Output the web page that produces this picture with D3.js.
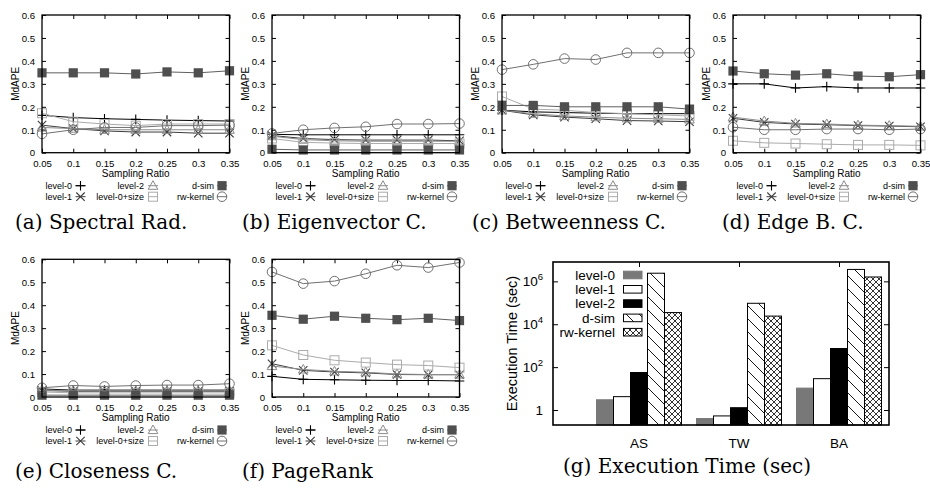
<!DOCTYPE html>
<html>
<head>
<meta charset="utf-8">
<script src="https://cdn.jsdelivr.net/npm/d3@7"></script>
<style>
  body { margin: 0; background: #fff; }
  svg { display: block; }
  .sans { font-family: "Liberation Sans", Arial, sans-serif; }
  .caption { font-family: "DejaVu Serif", serif; font-size: 20px; }
</style>
</head>
<body>
<div id="chart"></div>
<script>
// sampling ratios and method names shared by the six MdAPE panels
const ratios = [0.05, 0.1, 0.15, 0.2, 0.25, 0.3, 0.35];
const methods = ["level-0", "level-1", "level-2", "level-0+size", "d-sim", "rw-kernel"];
const mdapeTicks = [0, 0.1, 0.2, 0.3, 0.4, 0.5, 0.6];

// MdAPE values, one row per method (same order as methods)
const spectralRad = [
    [0.163, 0.153, 0.148, 0.145, 0.142, 0.140, 0.138],
    [0.120, 0.105, 0.095, 0.090, 0.090, 0.085, 0.085],
    [0.110, 0.105, 0.100, 0.100, 0.100, 0.100, 0.100],
    [0.172, 0.135, 0.125, 0.118, 0.125, 0.125, 0.125],
    [0.348, 0.348, 0.348, 0.343, 0.352, 0.348, 0.357],
    [0.082, 0.100, 0.110, 0.110, 0.118, 0.118, 0.120]
];
const eigenvectorC = [
    [0.080, 0.078, 0.078, 0.078, 0.078, 0.078, 0.078],
    [0.075, 0.062, 0.057, 0.055, 0.055, 0.055, 0.052],
    [0.072, 0.057, 0.052, 0.050, 0.050, 0.050, 0.050],
    [0.062, 0.045, 0.042, 0.040, 0.040, 0.040, 0.040],
    [0.015, 0.012, 0.012, 0.012, 0.012, 0.012, 0.012],
    [0.084, 0.100, 0.108, 0.113, 0.125, 0.125, 0.127]
];
const betweennessC = [
    [0.185, 0.178, 0.175, 0.172, 0.170, 0.170, 0.170],
    [0.185, 0.165, 0.155, 0.148, 0.140, 0.138, 0.135],
    [0.185, 0.170, 0.160, 0.155, 0.150, 0.148, 0.145],
    [0.245, 0.190, 0.185, 0.175, 0.170, 0.165, 0.160],
    [0.206, 0.206, 0.200, 0.200, 0.200, 0.200, 0.190],
    [0.362, 0.385, 0.410, 0.406, 0.435, 0.435, 0.435]
];
const edgeBC = [
    [0.300, 0.300, 0.282, 0.288, 0.282, 0.282, 0.282],
    [0.150, 0.132, 0.125, 0.122, 0.118, 0.116, 0.113],
    [0.155, 0.138, 0.128, 0.125, 0.120, 0.118, 0.115],
    [0.052, 0.043, 0.040, 0.037, 0.034, 0.034, 0.032],
    [0.356, 0.344, 0.338, 0.344, 0.334, 0.331, 0.340],
    [0.111, 0.100, 0.100, 0.103, 0.103, 0.100, 0.103]
];
const closenessC = [
    [0.035, 0.030, 0.030, 0.030, 0.030, 0.030, 0.030],
    [0.028, 0.025, 0.025, 0.025, 0.025, 0.025, 0.025],
    [0.030, 0.028, 0.027, 0.027, 0.027, 0.027, 0.027],
    [0.022, 0.018, 0.018, 0.018, 0.018, 0.018, 0.018],
    [0.008, 0.008, 0.008, 0.008, 0.008, 0.008, 0.008],
    [0.040, 0.050, 0.046, 0.050, 0.052, 0.052, 0.058]
];
const pageRank = [
    [0.090, 0.077, 0.075, 0.073, 0.072, 0.072, 0.070],
    [0.145, 0.116, 0.109, 0.105, 0.098, 0.097, 0.097],
    [0.135, 0.120, 0.112, 0.108, 0.100, 0.098, 0.098],
    [0.225, 0.183, 0.160, 0.150, 0.141, 0.137, 0.128],
    [0.356, 0.339, 0.352, 0.343, 0.337, 0.343, 0.333],
    [0.545, 0.494, 0.505, 0.537, 0.574, 0.564, 0.586]
];

// execution time (sec), log scale panel
const datasets = ["AS", "TW", "BA"];
const execLevel0 = [3.0, 0.40, 10.5];
const execLevel1 = [4.2, 0.53, 29];
const execLevel2 = [56, 1.28, 740];
const execDsim = [2.4e6, 9.5e4, 3.6e6];
const execRwKernel = [3.5e4, 2.4e4, 1.6e6];
const execTicks = [1, 1e2, 1e4, 1e6];

const svg = d3.select("#chart").append("svg")
    .attr("width", 930)
    .attr("height", 498);

// styles for each method in the line panels
const lineStyle = {
    "level-0": { color: "#000", marker: "plus" },
    "level-1": { color: "#3c3c3c", marker: "cross" },
    "level-2": { color: "#8c8c8c", marker: "triangle" },
    "level-0+size": { color: "#ababab", marker: "square" },
    "d-sim": { color: "#5f5f5f", fill: "#4f4f4f", marker: "squareFilled" },
    "rw-kernel": { color: "#707070", marker: "circle" }
};

function drawMarker(g, type, cx, cy, st) {
    const c = st.color;
    if (type === "plus") {
        g.append("path").attr("d", `M${cx - 4.8},${cy}H${cx + 4.8}M${cx},${cy - 4.8}V${cy + 4.8}`)
            .attr("stroke", c).attr("stroke-width", 1.1).attr("fill", "none");
    } else if (type === "cross") {
        g.append("path").attr("d", `M${cx - 4.2},${cy - 4.2}L${cx + 4.2},${cy + 4.2}M${cx - 4.2},${cy + 4.2}L${cx + 4.2},${cy - 4.2}`)
            .attr("stroke", c).attr("stroke-width", 1.1).attr("fill", "none");
    } else if (type === "triangle") {
        g.append("path").attr("d", `M${cx},${cy - 5}L${cx + 4.8},${cy + 3.6}L${cx - 4.8},${cy + 3.6}Z`)
            .attr("stroke", c).attr("stroke-width", 1).attr("fill", "none");
    } else if (type === "square") {
        g.append("rect").attr("x", cx - 4.5).attr("y", cy - 4.5).attr("width", 9).attr("height", 9)
            .attr("stroke", c).attr("stroke-width", 1).attr("fill", "none");
    } else if (type === "squareFilled") {
        g.append("rect").attr("x", cx - 4.6).attr("y", cy - 4.6).attr("width", 9.2).attr("height", 9.2)
            .attr("fill", st.fill);
    } else if (type === "circle") {
        g.append("circle").attr("cx", cx).attr("cy", cy).attr("r", 4.8)
            .attr("stroke", c).attr("stroke-width", 1).attr("fill", "none");
    }
}

const plotW = 187.5;
const plotH = 137.7;

function drawLinePanel(p) {
    const g = svg.append("g").attr("class", "sans");
    const x = d3.scaleLinear().domain([0.05, 0.35]).range([p.left, p.left + plotW]);
    const y = d3.scaleLinear().domain([0, 0.6]).range([p.top + plotH, p.top]);

    // axes with inward ticks on all four sides
    const left = g.append("g").attr("transform", `translate(${p.left},0)`)
        .call(d3.axisLeft(y).tickValues(mdapeTicks).tickFormat(d => String(d))
            .tickSizeInner(-4).tickSizeOuter(0).tickPadding(7));
    const right = g.append("g").attr("transform", `translate(${p.left + plotW},0)`)
        .call(d3.axisRight(y).tickValues(mdapeTicks).tickFormat("")
            .tickSizeInner(-4).tickSizeOuter(0));
    const bottom = g.append("g").attr("transform", `translate(0,${p.top + plotH})`)
        .call(d3.axisBottom(x).tickValues(ratios).tickFormat(d => String(d))
            .tickSizeInner(-4).tickSizeOuter(0).tickPadding(6));
    const top = g.append("g").attr("transform", `translate(0,${p.top})`)
        .call(d3.axisTop(x).tickValues(ratios).tickFormat("")
            .tickSizeInner(-4).tickSizeOuter(0));
    [left, right, bottom, top].forEach(a => {
        a.select(".domain").remove();
        a.selectAll("line").attr("stroke", "#000");
        a.selectAll("text").attr("fill", "#000")
            .style("font-family", "'Liberation Sans', Arial, sans-serif")
            .style("font-size", "9.6px");
    });
    bottom.selectAll("text").attr("dy", null).attr("y", 14);
    left.selectAll("text").attr("dy", "0.34em");

    g.append("text")
        .attr("transform", `translate(${p.left - 23.5},${p.top + plotH / 2}) rotate(-90)`)
        .attr("text-anchor", "middle")
        .style("font-size", "10px")
        .text("MdAPE");

    g.append("text")
        .attr("x", p.left + plotW / 2)
        .attr("y", p.top + plotH + 24)
        .attr("text-anchor", "middle")
        .style("font-size", "10px")
        .text("Sampling Ratio");

    // series, drawn in key order
    const line = d3.line().x((d, i) => x(ratios[i])).y(d => y(d));
    methods.forEach((m, k) => {
        const st = lineStyle[m];
        const vals = p.data[k];
        g.append("path")
            .datum(vals)
            .attr("d", line)
            .attr("fill", "none")
            .attr("stroke", st.color)
            .attr("stroke-width", 1);
        const mg = g.append("g");
        vals.forEach((v, i) => drawMarker(mg, st.marker, x(ratios[i]), y(v), st));
    });

    g.append("rect")
        .attr("x", p.left).attr("y", p.top)
        .attr("width", plotW).attr("height", plotH)
        .attr("fill", "none").attr("stroke", "#000").attr("stroke-width", 1.3);

    // key: 3 columns x 2 rows
    const colText = [30, 102, 172];
    const colMark = [38.5, 111, 180];
    const rowY = [p.top + plotH + 33, p.top + plotH + 44];
    methods.forEach((m, k) => {
        const col = Math.floor(k / 2), row = k % 2;
        const st = lineStyle[m];
        g.append("text")
            .attr("x", p.left + colText[col])
            .attr("y", rowY[row] + 3.2)
            .attr("text-anchor", "end")
            .style("font-size", "9px")
            .text(m);
        const mx = p.left + colMark[col];
        g.append("line")
            .attr("x1", mx - 5).attr("x2", mx + 5)
            .attr("y1", rowY[row]).attr("y2", rowY[row])
            .attr("stroke", st.color).attr("stroke-width", 1);
        drawMarker(g, st.marker, mx, rowY[row], st);
    });

    svg.append("text")
        .attr("class", "caption")
        .attr("x", p.capX)
        .attr("y", p.capY)
        .text(p.caption);
}

const linePanels = [
    { data: spectralRad, caption: "(a) Spectral Rad.", left: 42, top: 15, capX: 15, capY: 229 },
    { data: eigenvectorC, caption: "(b) Eigenvector C.", left: 272, top: 15, capX: 242, capY: 229 },
    { data: betweennessC, caption: "(c) Betweenness C.", left: 502, top: 15, capX: 472, capY: 229 },
    { data: edgeBC, caption: "(d) Edge B. C.", left: 733, top: 15, capX: 722, capY: 229 },
    { data: closenessC, caption: "(e) Closeness C.", left: 42, top: 259.3, capX: 15, capY: 478 },
    { data: pageRank, caption: "(f) PageRank", left: 272, top: 259.3, capX: 242, capY: 478 }
];
linePanels.forEach(drawLinePanel);

// ---------- (g) execution time, clustered bars on log axis ----------
const defs = svg.append("defs");
const diag = defs.append("pattern")
    .attr("id", "diag").attr("patternUnits", "userSpaceOnUse")
    .attr("width", 13).attr("height", 13);
diag.append("rect").attr("width", 13).attr("height", 13).attr("fill", "#fff");
diag.append("path").attr("d", "M0,0L13,13M-2,11L2,15M11,-2L15,2")
    .attr("stroke", "#000").attr("stroke-width", 0.9);
const cross = defs.append("pattern")
    .attr("id", "cross").attr("patternUnits", "userSpaceOnUse")
    .attr("width", 6).attr("height", 6);
cross.append("rect").attr("width", 6).attr("height", 6).attr("fill", "#fff");
cross.append("path").attr("d", "M0,0L6,6M-1,5L1,7M5,-1L7,1M0,6L6,0M-1,1L1,-1M5,7L7,5")
    .attr("stroke", "#000").attr("stroke-width", 0.8);

const barSeries = [
    { name: "level-0", values: execLevel0, fill: "#787878", stroke: "#787878" },
    { name: "level-1", values: execLevel1, fill: "#fff", stroke: "#000" },
    { name: "level-2", values: execLevel2, fill: "#000", stroke: "#000" },
    { name: "d-sim", values: execDsim, fill: "url(#diag)", stroke: "#000" },
    { name: "rw-kernel", values: execRwKernel, fill: "url(#cross)", stroke: "#000" }
];

const gx = { left: 553, right: 889, top: 262, bottom: 425 };
const xb = d3.scaleLinear().domain([-0.86, 2.5]).range([gx.left, gx.right]);
const yb = d3.scaleLog().domain([0.2, 8e6]).range([gx.bottom, gx.top]);
const barW = 17;

const gg = svg.append("g").attr("class", "sans");

barSeries.forEach((s, j) => {
    gg.append("g").selectAll("rect")
        .data(s.values)
        .join("rect")
        .attr("x", (d, i) => xb(i) + (j - 2.5) * barW)
        .attr("y", d => yb(d))
        .attr("width", barW)
        .attr("height", d => gx.bottom - yb(d))
        .attr("fill", s.fill)
        .attr("stroke", s.stroke)
        .attr("stroke-width", 1);
});

const yl = gg.append("g").attr("transform", `translate(${gx.left},0)`)
    .call(d3.axisLeft(yb).tickValues(execTicks).tickFormat("")
        .tickSizeInner(-5).tickSizeOuter(0));
const yr = gg.append("g").attr("transform", `translate(${gx.right},0)`)
    .call(d3.axisRight(yb).tickValues(execTicks).tickFormat("")
        .tickSizeInner(-5).tickSizeOuter(0));
const xt = gg.append("g").attr("transform", `translate(0,${gx.top})`)
    .call(d3.axisTop(xb).tickValues(d3.range(datasets.length)).tickFormat("")
        .tickSizeInner(-5).tickSizeOuter(0));
[yl, yr, xt].forEach(a => {
    a.select(".domain").remove();
    a.selectAll("line").attr("stroke", "#000");
});

// y tick labels as powers of ten
execTicks.forEach(t => {
    const e = Math.round(Math.log10(t));
    const txt = gg.append("text")
        .attr("x", gx.left - 10)
        .attr("y", yb(t) + 4.6)
        .attr("text-anchor", "end")
        .style("font-size", "13.5px");
    if (e === 0) {
        txt.text("1");
    } else {
        txt.append("tspan").text("10");
        txt.append("tspan").attr("dy", -6).style("font-size", "9.5px").text(e);
    }
});

gg.selectAll(".cat")
    .data(datasets)
    .join("text")
    .attr("class", "cat")
    .attr("x", (d, i) => xb(i))
    .attr("y", 447.5)
    .attr("text-anchor", "middle")
    .style("font-size", "13.5px")
    .text(d => d);

gg.append("text")
    .attr("transform", `translate(${gx.left - 36},${(gx.top + gx.bottom) / 2}) rotate(-90)`)
    .attr("text-anchor", "middle")
    .style("font-size", "14.5px")
    .text("Execution Time (sec)");

gg.append("rect")
    .attr("x", gx.left).attr("y", gx.top)
    .attr("width", gx.right - gx.left).attr("height", gx.bottom - gx.top)
    .attr("fill", "none").attr("stroke", "#000").attr("stroke-width", 1.6);

// key
barSeries.forEach((s, j) => {
    const cy = 275 + j * 14.3;
    gg.append("text")
        .attr("x", 615)
        .attr("y", cy + 4.8)
        .attr("text-anchor", "end")
        .style("font-size", "13.5px")
        .text(s.name);
    gg.append("rect")
        .attr("x", 623.5).attr("y", cy - 3.8)
        .attr("width", 18.5).attr("height", 7.6)
        .attr("fill", s.fill)
        .attr("stroke", s.stroke)
        .attr("stroke-width", 1);
});

svg.append("text")
    .attr("class", "caption")
    .attr("x", 563)
    .attr("y", 473)
    .text("(g) Execution Time (sec)");
</script>
</body>
</html>
